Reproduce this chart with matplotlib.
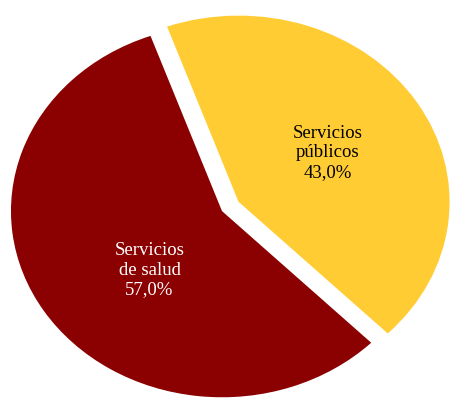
import numpy as np
import matplotlib.pyplot as plt

categories = ['Servicios\npúblicos', 'Servicios\nde salud']
shares = [43.0, 57.0]
colors = ['#FFCC33', '#8B0000']
text_colors = ['black', 'white']
explode = [0.093, 0.0]

fig = plt.figure(figsize=(4.52, 4.02), dpi=100)
ax = fig.add_axes([0, 0, 1, 1])

wedges, _ = ax.pie(shares, colors=colors, explode=explode, startangle=-45,
                   counterclock=True, radius=1.0,
                   wedgeprops=dict(linewidth=0))

# label placement inside each wedge (distance, angle tweak in degrees)
label_dist = [0.5, 0.465]
label_turn = [0.0, 10.0]
for w, cat, val, tc, d, t, ex in zip(wedges, categories, shares, text_colors,
                                     label_dist, label_turn, explode):
    mid = np.deg2rad((w.theta1 + w.theta2) / 2 + t)
    mid0 = np.deg2rad((w.theta1 + w.theta2) / 2)
    x = d * np.cos(mid) + ex * np.cos(mid0)
    y = d * np.sin(mid) + ex * np.sin(mid0)
    ax.text(x, y, f"{cat}\n{val:.1f}%".replace('.', ','), ha='center', va='center',
            color=tc, fontsize=13.5, family='Liberation Serif', linespacing=1.2)

ax.set_aspect('auto')
ax.set_xlim(-1.052, 1.090)
ax.set_ylim(-1.02, 1.139)
ax.axis('off')

fig.savefig('out.png', dpi=100)
